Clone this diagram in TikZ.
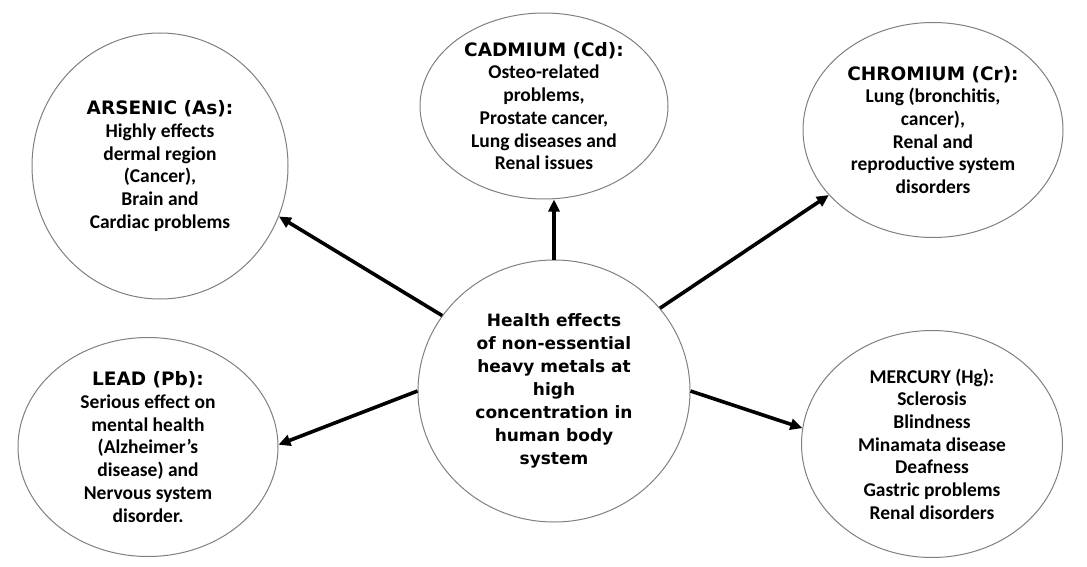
\documentclass[tikz,border=0pt]{standalone}
\usepackage{fontspec}
\setmainfont{Carlito}
\newfontfamily\hdfont{DejaVu Sans}
\newfontfamily\ctrfont{DejaVu Sans}
\usetikzlibrary{shapes.geometric,arrows.meta}
\newcommand\hdr[1]{{\hdfont\bfseries\fontsize{18.5}{22.7}\selectfont #1}}
\begin{document}
\begin{tikzpicture}[x=1pt,y=-1pt,
  bubble/.style={ellipse,draw=black!50,line width=1pt,inner sep=0pt,align=center,
    font=\bfseries\fontsize{19.5}{22.7}\selectfont},
  link/.style={line width=3.6pt,draw=black,-{Triangle[length=12pt,width=11pt]}}]
\useasboundingbox (0,0) rectangle (1087,567);
\fill[white] (0,0) rectangle (1087,567);

\node[bubble,minimum width=256pt,minimum height=266pt] (ars) at (160,166)
  {\hdr{ARSENIC (As):}\\Highly effects\\dermal region\\(Cancer),\\Brain and\\Cardiac problems};
\node[bubble,minimum width=248pt,minimum height=186pt] (cad) at (544,106)
  {\hdr{CADMIUM (Cd):}\\Osteo-related\\problems,\\Prostate cancer,\\Lung diseases and\\Renal issues};
\node[bubble,minimum width=260pt,minimum height=215pt] (chr) at (933,130)
  {\hdr{CHROMIUM (Cr):}\\Lung (bronchitis,\\cancer),\\Renal and\\reproductive system\\disorders};
\node[bubble,minimum width=260pt,minimum height=219pt] (lead) at (148,447)
  {\hdr{LEAD (Pb):}\\Serious effect on\\mental health\\(Alzheimer's\\disease) and\\Nervous system\\disorder.};
\node[bubble,minimum width=261pt,minimum height=227pt] (mer) at (932,444)
  {MERCURY (Hg):\\Sclerosis\\Blindness\\Minamata disease\\Deafness\\Gastric problems\\Renal disorders};
\node[bubble,minimum width=272pt,minimum height=262pt,
  font=\ctrfont\bfseries\fontsize{17}{23}\selectfont] (ctr) at (554,391)
  {Health effects\\of non-essential\\heavy metals at\\high\\concentration in\\human body\\system};

\draw[link] (ctr.146.7) -- (ars.-23.4);
\draw[link] (ctr.north) -- (ctr.north |- cad.south);
\draw[link] (ctr.38.5) -- (chr.212);
\draw[link] (ctr.180) -- (lead.1);
\draw[link] (ctr.0) -- (mer.173);
\end{tikzpicture}
\end{document}
